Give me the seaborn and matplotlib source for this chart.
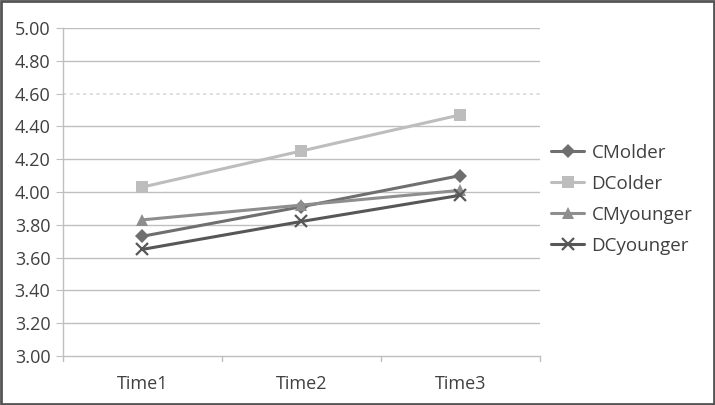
import pandas as pd
import numpy as np
import matplotlib
matplotlib.use("Agg")
import matplotlib.pyplot as plt
import seaborn as sns

# ── Data ──────────────────────────────────────────────────────────────────────
times = ["Time1", "Time2", "Time3"]
groups = ["CMolder", "DColder", "CMyounger", "DCyounger"]
cm_older = [3.73, 3.91, 4.10]
dc_older = [4.03, 4.25, 4.47]
cm_younger = [3.83, 3.92, 4.01]
dc_younger = [3.65, 3.82, 3.98]
y_ticks = [3.00, 3.20, 3.40, 3.60, 3.80, 4.00, 4.20, 4.40, 4.60, 4.80, 5.00]

series = {"CMolder": cm_older, "DColder": dc_older,
          "CMyounger": cm_younger, "DCyounger": dc_younger}
df = pd.DataFrame([(g, t, v) for g in groups for t, v in zip(times, series[g])],
                  columns=["group", "time", "score"])

colors = {"CMolder": "#6f6f6f", "DColder": "#bdbdbd",
          "CMyounger": "#8e8e8e", "DCyounger": "#575757"}
markers = {"CMolder": "D", "DColder": "s", "CMyounger": "^", "DCyounger": "x"}
msizes = {"CMolder": 7, "DColder": 9, "CMyounger": 8, "DCyounger": 8}

sns.set_style("white")
plt.rcParams["font.family"] = ["Open Sans", "DejaVu Sans"]

fig = plt.figure(figsize=(7.15, 4.05), dpi=100)
ax = fig.add_axes([0.088, 0.121, 0.667, 0.810])

for g in groups:
    sub = df[df["group"] == g]
    sns.lineplot(data=sub, x="time", y="score", ax=ax, color=colors[g],
                 marker=markers[g], markersize=msizes[g], linewidth=2.2,
                 markeredgewidth=1.6 if g == "DCyounger" else 0,
                 markeredgecolor=colors[g], label=g, sort=False)

ax.set_xlim(-0.5, 2.5)
ax.set_ylim(3.0, 5.0)
ax.set_yticks(y_ticks)
ax.set_yticklabels([f"{v:.2f}" for v in y_ticks], fontsize=13, color="#404040")
ax.set_xticks([0, 1, 2])
ax.set_xticklabels(times, fontsize=13, color="#404040")
ax.set_xlabel("")
ax.set_ylabel("")

# gridlines
for v in y_ticks[1:]:
    if abs(v - 4.60) < 1e-9:
        ax.axhline(v, color="#d9d9d9", linewidth=1.2, linestyle=(0, (2, 2)), zorder=0)
    else:
        ax.axhline(v, color="#bfbfbf", linewidth=1.0, zorder=0)

for s in ["top", "right"]:
    ax.spines[s].set_visible(False)
ax.spines["left"].set_color("#bfbfbf")
ax.spines["bottom"].set_color("#bfbfbf")
ax.spines["left"].set_linewidth(1.0)
ax.spines["bottom"].set_linewidth(1.0)

ax.tick_params(axis="y", length=5, color="#bfbfbf", pad=4, left=True)
ax.tick_params(axis="x", length=0, pad=14, bottom=False)
for xb in [-0.5, 0.5, 1.5, 2.5]:
    ax.plot([xb, xb], [3.0, 2.97], color="#bfbfbf", linewidth=1.0,
            clip_on=False, transform=ax.transData)

leg = ax.legend(loc="center left", bbox_to_anchor=(0.771, 0.508),
                bbox_transform=fig.transFigure, frameon=False,
                fontsize=13.5, handlelength=1.75, labelspacing=0.7,
                handletextpad=0.4, borderpad=0, borderaxespad=0)
for t in leg.get_texts():
    t.set_color("#404040")

# outer frame
fig.patches.append(plt.Rectangle((0.002, 0.002), 0.996, 0.996,
                                 transform=fig.transFigure, fill=False,
                                 edgecolor="#555555", linewidth=2.0))

fig.savefig("out.png", dpi=100)
